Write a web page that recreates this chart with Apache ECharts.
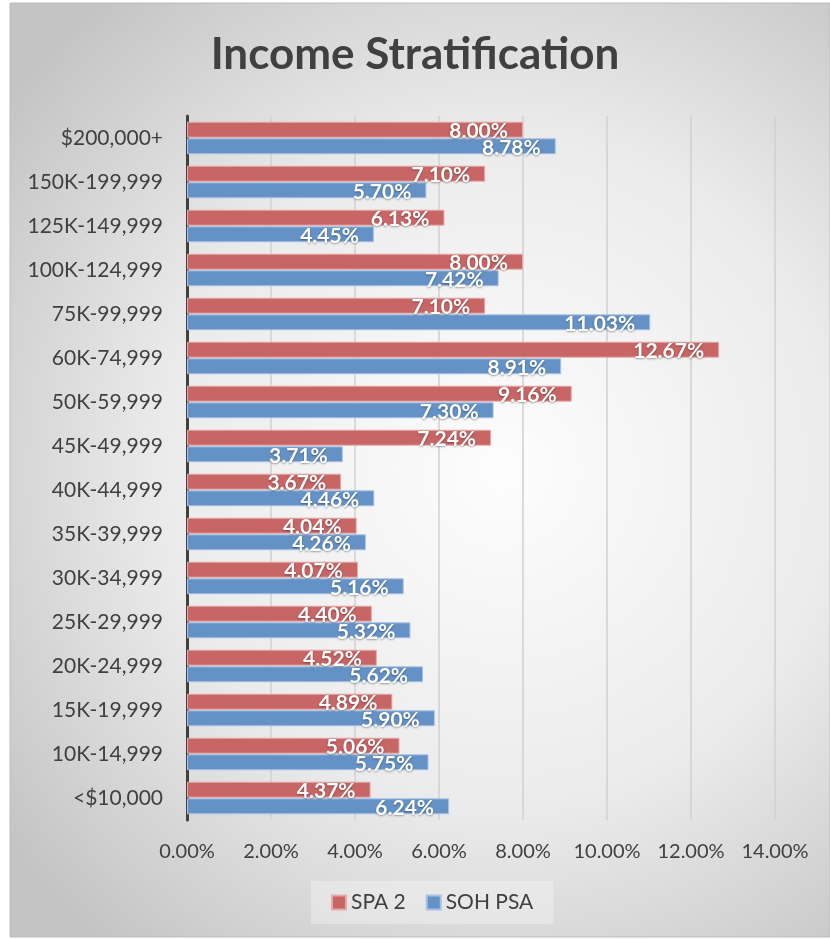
<!DOCTYPE html>
<html lang="en">

<head>
    <meta charset="UTF-8">
    <title>Income Stratification</title>
    <style>
        html, body { margin: 0; padding: 0; background: #fff; }
        .chart { width: 830px; height: 939px; }
    </style>
</head>

<body>
    <div id="chart" class="chart"></div>

    <script src="https://cdn.jsdelivr.net/npm/echarts@6/dist/echarts.min.js"></script>
    <script>
        // income brackets, listed top to bottom as in the picture
        var categories = ['$200,000+', '150K-199,999', '125K-149,999', '100K-124,999', '75K-99,999',
            '60K-74,999', '50K-59,999', '45K-49,999', '40K-44,999', '35K-39,999', '30K-34,999',
            '25K-29,999', '20K-24,999', '15K-19,999', '10K-14,999', '<$10,000'];
        var spa2 = [8.00, 7.10, 6.13, 8.00, 7.10, 12.67, 9.16, 7.24, 3.67, 4.04, 4.07, 4.40, 4.52, 4.89, 5.06, 4.37];
        var sohPsa = [8.78, 5.70, 4.45, 7.42, 11.03, 8.91, 7.30, 3.71, 4.46, 4.26, 5.16, 5.32, 5.62, 5.90, 5.75, 6.24];
        var xTicks = [0, 2, 4, 6, 8, 10, 12, 14];

        var font = 'Lato, "Open Sans", sans-serif';
        var chart = echarts.init(document.getElementById('chart'));

        var labelStyle = {
            show: true,
            position: 'insideRight',
            distance: 15,
            offset: [0, 2],
            color: '#fff',
            fontFamily: font,
            fontWeight: 'bold',
            fontSize: 21,
            textShadowColor: 'rgba(0,0,0,0.35)',
            textShadowBlur: 2,
            textShadowOffsetY: 1,
            formatter: function (p) { return p.value.toFixed(2) + '%'; }
        };

        var option = {
            backgroundColor: '#fff',
            graphic: [{
                type: 'rect',
                z: -10,
                silent: true,
                shape: { x: 10, y: 3, width: 820, height: 934 },
                style: {
                    fill: new echarts.graphic.RadialGradient(0.6, 0.5, 0.75, [
                        { offset: 0, color: '#fdfdfd' },
                        { offset: 0.55, color: '#ebebeb' },
                        { offset: 1, color: '#c4c4c4' }
                    ]),
                    stroke: '#bdbdbd',
                    lineWidth: 1
                }
            }],
            title: {
                text: 'Income Stratification',
                left: 'center',
                top: 28,
                textStyle: {
                    fontFamily: font,
                    fontSize: 44,
                    fontWeight: 'bold',
                    color: '#404040'
                }
            },
            legend: {
                data: ['SPA 2', 'SOH PSA'],
                left: 311,
                top: 881,
                padding: [11, 20, 11, 20],
                itemGap: 20,
                itemWidth: 14,
                itemHeight: 14,
                backgroundColor: 'rgba(255,255,255,0.3)',
                icon: 'rect',
                textStyle: { fontFamily: font, fontSize: 21, color: '#404040' }
            },
            grid: {
                left: 187,
                right: 55,
                top: 116,
                bottom: 119,
                containLabel: false
            },
            xAxis: {
                type: 'value',
                min: 0,
                max: 14,
                interval: 2,
                axisLine: { show: false },
                axisTick: { show: false },
                splitLine: { lineStyle: { color: '#d0d0d0', width: 1.5 } },
                axisLabel: {
                    margin: 22,
                    fontFamily: font,
                    fontSize: 20,
                    color: '#404040',
                    formatter: function (v) { return xTicks.indexOf(v) >= 0 ? v.toFixed(2) + '%' : ''; }
                }
            },
            yAxis: {
                type: 'category',
                inverse: true,
                data: categories,
                axisLine: { lineStyle: { color: '#404040', width: 3 } },
                axisTick: { show: false },
                axisLabel: {
                    margin: 24,
                    fontFamily: font,
                    fontSize: 21,
                    color: '#404040'
                }
            },
            series: [{
                name: 'SPA 2',
                type: 'bar',
                data: spa2,
                barGap: '4%',
                barCategoryGap: '26%',
                itemStyle: { color: '#c86565', borderColor: '#e6a9a9', borderWidth: 1 },
                label: labelStyle
            }, {
                name: 'SOH PSA',
                type: 'bar',
                data: sohPsa,
                barGap: '4%',
                barCategoryGap: '26%',
                itemStyle: { color: '#6592c6', borderColor: '#a9c2e3', borderWidth: 1 },
                label: labelStyle
            }]
        };

        chart.setOption(option, true);
    </script>
</body>

</html>
